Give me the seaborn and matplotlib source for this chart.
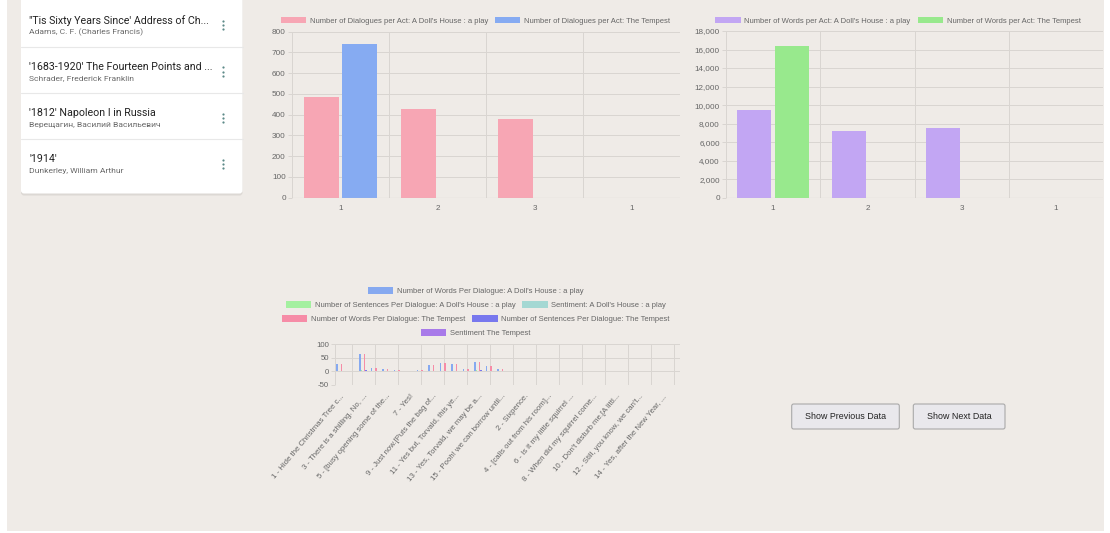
import numpy as np
import pandas as pd
import matplotlib
matplotlib.use("Agg")
import matplotlib.pyplot as plt
from matplotlib.patches import Patch, FancyBboxPatch, Rectangle
from matplotlib.ticker import FuncFormatter
import seaborn as sns

W, H = 1110, 533
PAGE = "#efebe7"
GRID = "#d9d5d1"
TICK = "#666666"

# ---- sidebar list ----
book_titles = ["\"Tis Sixty Years Since' Address of Ch...",
               "'1683-1920' The Fourteen Points and ...",
               "'1812' Napoleon I in Russia",
               "'1914'"]
book_authors = ["Adams, C. F. (Charles Francis)",
                "Schrader, Frederick Franklin",
                "Верещагин, Василий Васильевич",
                "Dunkerley, William Arthur"]

# ---- per act charts ----
act_labels = ["1", "2", "3", "1"]
dialogues_dolls_house = [484, 427, 381, 0]
dialogues_tempest = [741, 0, 0, 0]
words_dolls_house = [9500, 7200, 7490, 0]
words_tempest = [16400, 0, 0, 0]

# ---- per dialogue chart ----
dialogue_ticks = ["1 - Hide the Christmas Tree c...",
                  "3 - There is a shilling. No, ...",
                  "5 - [busy opening some of the...",
                  "7 - Yes!",
                  "9 - Just now.[Puts the bag of...",
                  "11 - Yes but, Torvald, this ye...",
                  "13 - Yes, Torvald, we may be a...",
                  "15 - Pooh! we can borrow until...",
                  "2 - Sixpence.",
                  "4 - [calls out from his room]...",
                  "6 - Is it my little squirrel ...",
                  "8 - When did my squirrel come...",
                  "10 - Don't disturb me.[A littl...",
                  "12 - Still, you know, we can't...",
                  "14 - Yes, after the New Year, ..."]
words_per_dialogue_dh = [27, 0, 65, 11, 7, 5, 0, 4, 24, 32, 26, 7, 35, 19, 6,
                         0, 0, 0, 0, 0, 0, 0, 0, 0, 0, 0, 0, 0, 0, 0]
sentences_per_dialogue_dh = [2, 0, 4, 1, 1, 1, 0, 1, 2, 2, 2, 1, 3, 2, 1,
                             0, 0, 0, 0, 0, 0, 0, 0, 0, 0, 0, 0, 0, 0, 0]
sentiment_dh = [0.3, 0, 0.5, 0.2, 0.1, 0.2, 0, 0.1, 0.4, 0.3, 0.2, 0.1, 0.5, 0.3, 0.1,
                0, 0, 0, 0, 0, 0, 0, 0, 0, 0, 0, 0, 0, 0, 0]
words_per_dialogue_tempest = [27, 0, 65, 11, 7, 5, 0, 4, 24, 32, 26, 7, 35, 19, 6,
                              0, 0, 0, 0, 0, 0, 0, 0, 0, 0, 0, 0, 0, 0, 0]
sentences_per_dialogue_tempest = [2, 0, 4, 1, 1, 1, 0, 1, 2, 2, 2, 1, 3, 2, 1,
                                  0, 0, 0, 0, 0, 0, 0, 0, 0, 0, 0, 0, 0, 0, 0]
sentiment_tempest = [0.3, 0, 0.5, 0.2, 0.1, 0.2, 0, 0.1, 0.4, 0.3, 0.2, 0.1, 0.5, 0.3, 0.1,
                     0, 0, 0, 0, 0, 0, 0, 0, 0, 0, 0, 0, 0, 0, 0]

sns.set_theme(style="white")
plt.rcParams["font.family"] = ["Liberation Sans", "DejaVu Sans"]

fig = plt.figure(figsize=(W / 100, H / 100), dpi=100)
fig.patch.set_facecolor("white")

# background layer in pixel coordinates
bg = fig.add_axes([0, 0, 1, 1], zorder=0)
bg.set_xlim(0, W)
bg.set_ylim(H, 0)
bg.axis("off")
bg.add_patch(Rectangle((7, 0), 1097, 531, color=PAGE, lw=0))

# sidebar card
bg.add_patch(FancyBboxPatch((21, -8), 221.5, 203.5, boxstyle="round,pad=0,rounding_size=3",
                            fc="#dcd8d4", ec="none"))
bg.add_patch(FancyBboxPatch((21, -8), 221.5, 201.5, boxstyle="round,pad=0,rounding_size=3",
                            fc="white", ec="none"))
for sep in [46.7, 93.3, 139.3]:
    bg.plot([21, 242.5], [sep, sep], color="#e8e8e8", lw=0.8)
for i, (t, a) in enumerate(zip(book_titles, book_authors)):
    y0 = 20.5 + i * 46.3
    bg.text(29, y0, t, fontsize=7.7, color="#212121", va="center", ha="left",
            family=["Roboto", "DejaVu Sans"])
    bg.text(29, y0 + 11.5, a, fontsize=6.1, color="#6a6a6a", va="center", ha="left",
            family=["Roboto", "DejaVu Sans"])
    bg.plot([222.7] * 3, [y0 + 0.5, y0 + 4.7, y0 + 8.9], "o", ms=1.6, color="#5d8a88", mew=0)

# buttons
for x0, x1, label in [(791.7, 899.3, "Show Previous Data"), (913.3, 1005, "Show Next Data")]:
    bg.add_patch(FancyBboxPatch((x0, 404), x1 - x0, 25, boxstyle="round,pad=0,rounding_size=2",
                                fc="#e9e8ec", ec="#a9a9a9", lw=0.8))
    bg.text((x0 + x1) / 2, 416.8, label, fontsize=6.4, color="#222222", ha="center", va="center")


def px_axes(x0, y0, x1, y1):
    return fig.add_axes([x0 / W, 1 - y1 / H, (x1 - x0) / W, (y1 - y0) / H], zorder=1)


def bar_chart(ax, series, names, colors, ylim, yticks, fmt, xlabels, label_pos, grid_pos, fs):
    n = len(series[0])
    df = pd.DataFrame({
        "pos": np.tile(np.arange(n), len(series)),
        "value": np.concatenate(series),
        "series": np.repeat(names, n),
    })
    sns.barplot(data=df, x="pos", y="value", hue="series", hue_order=names, palette=colors,
                width=0.8, gap=0.1, saturation=1, legend=False, linewidth=0, ax=ax)
    ax.set_facecolor("none")
    ax.set_xlim(-0.5, n - 0.5)
    ax.set_ylim(*ylim)
    ax.set_xlabel("")
    ax.set_ylabel("")
    ax.set_yticks(yticks)
    ax.yaxis.set_major_formatter(FuncFormatter(fmt))
    ax.set_xticks(label_pos)
    ax.set_xticklabels(xlabels)
    ax.set_xticks(grid_pos, minor=True)
    ax.set_axisbelow(True)
    ax.grid(axis="y", which="major", color=GRID, lw=0.7)
    ax.grid(axis="x", which="minor", color=GRID, lw=0.7)
    ax.grid(axis="x", which="major", visible=False)
    ax.tick_params(axis="x", which="major", length=0, pad=5.5, labelsize=fs, labelcolor=TICK)
    ax.tick_params(axis="x", which="minor", length=4, width=0.7, color=GRID)
    ax.tick_params(axis="y", length=3, width=0.7, color=GRID, pad=1.5,
                   labelsize=fs, labelcolor=TICK, left=True)
    for s in ax.spines.values():
        s.set_visible(False)


def legend_row(items, cx, cy):
    handles = [Patch(facecolor=c, edgecolor="none") for _, c in items]
    fig.legend(handles, [t for t, _ in items], loc="center",
               bbox_to_anchor=(cx / W, 1 - cy / H), ncol=len(items), frameon=False,
               fontsize=5.5, labelcolor=TICK, handlelength=3.3, handleheight=0.9,
               handletextpad=0.5, columnspacing=0.9, borderpad=0, borderaxespad=0)


plain = lambda v, p: f"{v:,.0f}"

# chart 1: dialogues per act
ax1 = px_axes(292, 31.7, 680, 197.7)
names1 = ["Number of Dialogues per Act: A Doll's House : a play",
          "Number of Dialogues per Act: The Tempest"]
cols1 = ["#f7a6b4", "#86abf2"]
bar_chart(ax1, [dialogues_dolls_house, dialogues_tempest], names1, cols1, (0, 800),
          range(0, 801, 100), plain, act_labels, range(4), np.arange(-0.5, 4), 5.9)
ax1.axhline(0, color="#c9c5c1", lw=0.8)
legend_row(list(zip(names1, cols1)), 475.5, 20.8)

# chart 2: words per act
ax2 = px_axes(726, 31, 1103.3, 197.7)
names2 = ["Number of Words per Act: A Doll's House : a play",
          "Number of Words per Act: The Tempest"]
cols2 = ["#c2a6f3", "#98e98d"]
bar_chart(ax2, [words_dolls_house, words_tempest], names2, cols2, (0, 18000),
          range(0, 18001, 2000), plain, act_labels, range(4), np.arange(-0.5, 4), 5.9)
ax2.axhline(0, color="#c9c5c1", lw=0.8)
legend_row(list(zip(names2, cols2)), 898, 20.8)

# chart 3: per dialogue
ax3 = px_axes(335, 344.3, 680, 384.5)
names3 = ["Number of Words Per Dialogue: A Doll's House : a play",
          "Number of Sentences Per Dialogue: A Doll's House : a play",
          "Sentiment: A Doll's House : a play",
          "Number of Words Per Dialogue: The Tempest",
          "Number of Sentences Per Dialogue: The Tempest",
          "Sentiment The Tempest"]
cols3 = ["#86a9f0", "#a4f0a0", "#a4d8d3", "#f68ca7", "#7878ee", "#a87ae9"]
n3 = len(words_per_dialogue_dh)
bar_chart(ax3, [words_per_dialogue_dh, sentences_per_dialogue_dh, sentiment_dh,
                words_per_dialogue_tempest, sentences_per_dialogue_tempest, sentiment_tempest],
          names3, cols3, (-50, 100), [-50, 0, 50, 100], plain, dialogue_ticks,
          range(0, n3, 2), [-0.5] + list(range(1, n3, 2)), 5.6)
plt.setp(ax3.get_xticklabels(), rotation=50, ha="right", rotation_mode="anchor")
ax3.tick_params(axis="x", which="major", pad=6)
legend_row([(names3[0], cols3[0])], 476, 291.3)
legend_row([(names3[1], cols3[1]), (names3[2], cols3[2])], 476, 305.3)
legend_row([(names3[3], cols3[3]), (names3[4], cols3[4])], 476, 319.3)
legend_row([(names3[5], cols3[5])], 476, 333.3)

fig.savefig("out.png", dpi=100, facecolor=fig.get_facecolor())
